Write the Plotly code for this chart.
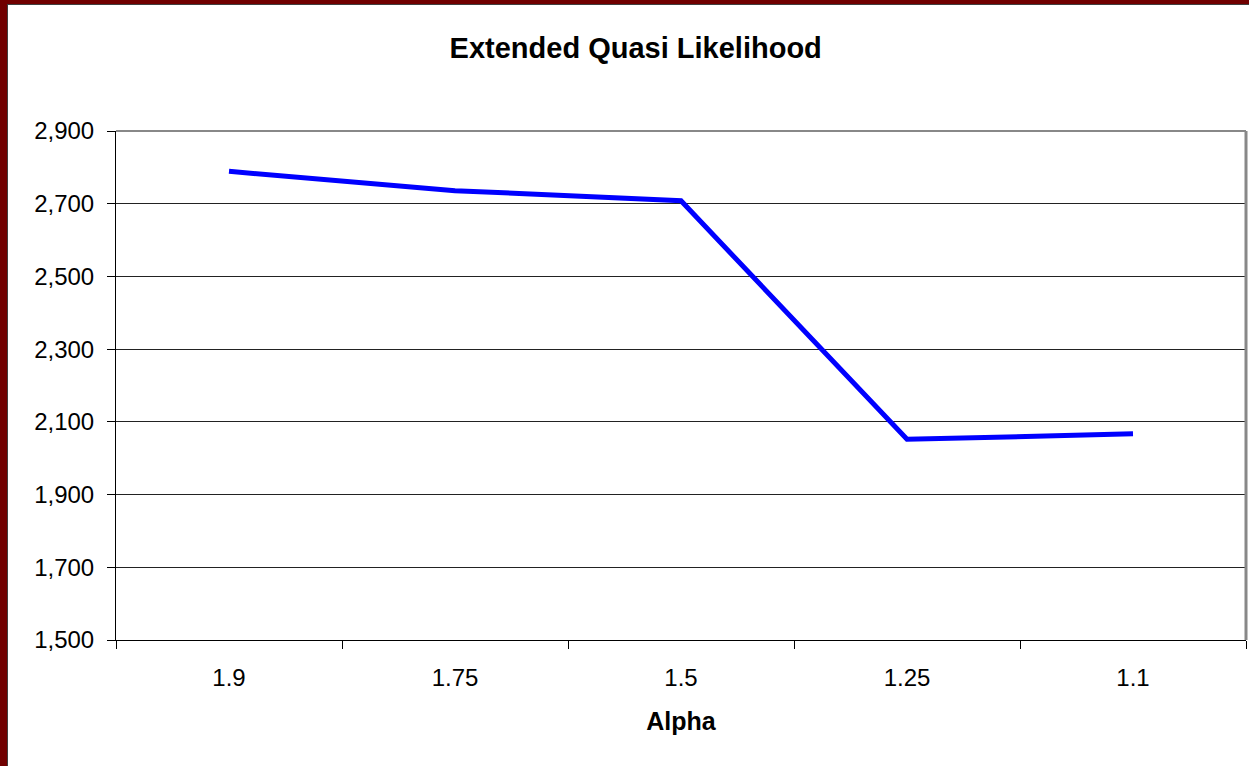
import plotly.graph_objects as go

alpha = ["1.9", "1.75", "1.5", "1.25", "1.1"]
eql = [2789, 2736, 2708, 2052, 2067]
y_ticks = [1500, 1700, 1900, 2100, 2300, 2500, 2700, 2900]

W, H = 1249, 766
L, R, T, B = 116, 3, 131, 126
pw, ph = W - L - R, H - T - B


def px(x):
    return (x - L) / pw


def py(y):
    return (H - B - y) / ph


fig = go.Figure()
fig.add_trace(go.Scatter(
    x=alpha, y=eql, mode="lines",
    line=dict(color="#0000FF", width=5),
    showlegend=False, hoverinfo="x+y",
))

font = "Arial, Liberation Sans, sans-serif"
fig.update_layout(
    width=W, height=H,
    margin=dict(l=L, r=R, t=T, b=B),
    paper_bgcolor="white", plot_bgcolor="white",
    title=dict(text="<b>Extended Quasi Likelihood</b>", x=0.509, xanchor="center",
               y=1 - 48 / H, yanchor="middle", yref="container",
               font=dict(family=font, size=29, color="black")),
    xaxis=dict(
        type="category", range=[-0.5, 4.5],
        showgrid=False, showline=True, linecolor="black", linewidth=1,
        ticks="outside", tickson="boundaries", ticklen=8, tickcolor="black",
        ticklabelstandoff=16,
        tickfont=dict(family=font, size=24, color="black"),
        title=dict(text="<b>Alpha</b>", font=dict(family=font, size=25, color="black"), standoff=22),
        zeroline=False,
    ),
    yaxis=dict(
        range=[1500, 2900], tickvals=y_ticks, tickformat=",",
        showgrid=True, gridcolor="#222222", gridwidth=1,
        showline=True, linecolor="black", linewidth=1,
        ticks="outside", ticklen=8, tickcolor="black",
        ticklabelstandoff=8,
        tickfont=dict(family=font, size=24, color="black"),
        zeroline=False,
    ),
)

shapes = [
    # plot area border (top / right)
    dict(type="line", xref="paper", yref="paper", x0=0, x1=1, y0=1, y1=1,
         line=dict(color="#888888", width=2)),
    dict(type="line", xref="paper", yref="paper", x0=1, x1=1, y0=0, y1=1,
         line=dict(color="#888888", width=3)),
    # dark red frame
    dict(type="rect", xref="paper", yref="paper", x0=px(0), x1=px(7), y0=py(H), y1=py(0),
         fillcolor="#700000", line=dict(width=0), layer="above"),
    dict(type="rect", xref="paper", yref="paper", x0=px(0), x1=px(W), y0=py(4), y1=py(0),
         fillcolor="#700000", line=dict(width=0), layer="above"),
    dict(type="line", xref="paper", yref="paper", x0=px(7.5), x1=px(7.5), y0=py(H), y1=py(4),
         line=dict(color="#404040", width=1)),
    dict(type="line", xref="paper", yref="paper", x0=px(7), x1=px(W), y0=py(4.5), y1=py(4.5),
         line=dict(color="#404040", width=1)),
]
fig.update_layout(shapes=shapes)

fig.write_html("out.html")
